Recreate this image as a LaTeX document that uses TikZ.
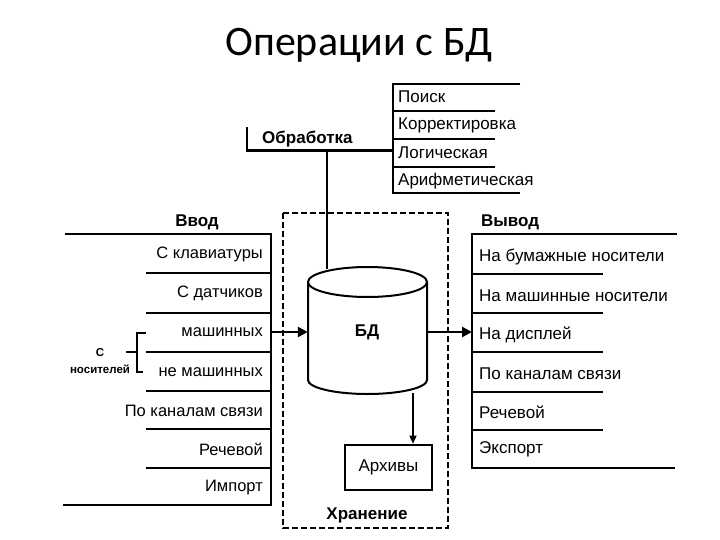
\documentclass[tikz,border=0pt]{standalone}
\usepackage{fontspec}
\setmainfont{Liberation Sans}
\newfontfamily\titlefont{Carlito}
\usetikzlibrary{arrows.meta}
\begin{document}
\begin{tikzpicture}[x=1pt,y=-1pt,
  item/.style={inner sep=0pt,font=\fontsize{17}{19}\selectfont},
  litem/.style={inner sep=0pt,font=\fontsize{16.5}{19}\selectfont},
  head/.style={inner sep=0pt,font=\fontsize{17}{19}\selectfont\bfseries},
  small/.style={inner sep=0pt,font=\fontsize{11.5}{12}\selectfont\bfseries},
  bar/.style={line width=2.8pt},
  sep/.style={line width=2pt},
  conn/.style={line width=2.6pt,-{Triangle[length=10pt,width=10pt]}},
  thinconn/.style={line width=1.4pt,-{Triangle[length=8pt,width=7pt]}}]
\useasboundingbox (0,0) rectangle (720,540);

% title
\node[inner sep=0pt,font=\titlefont\fontsize{42}{46}\selectfont] (title) at (359,45) {Операции с БД};

% storage area
\draw[line width=2.2pt,dash pattern=on 6pt off 3pt] (283,213) rectangle (448,528);
\node[head] (stor) at (367,515) {Хранение};

% database cylinder
\node[minimum width=119pt,minimum height=126pt,inner sep=0pt] (db) at (367.5,331) {};
\draw[line width=2pt,fill=white] (308,282) -- (308,380) arc[start angle=180,end angle=360,x radius=59.5pt,y radius=14pt] -- (427,282);
\draw[line width=2pt,fill=white] (367.5,282) ellipse [x radius=59.5pt,y radius=15pt];
\node[head] (dbt) at (367,332) {БД};

% archives
\node[draw,line width=2.6pt,minimum width=87pt,minimum height=45pt,inner sep=0pt,font=\fontsize{17}{19}\selectfont] (arch) at (388.5,467.5) {Архивы};
\coordinate (dbb) at (413,393);
\draw[thinconn] (dbb) -- (dbb |- arch.north);

% processing
\node[head,anchor=west] (proc) at (262,139) {Обработка};
\draw[bar] (247,127) -- (247,150.5) -- (393,150.5);
\draw[bar] (520,84) -- (393,84) -- (393,193) -- (520,193);
\draw[sep] (393,111) -- (495,111);
\draw[sep] (393,139) -- (495,139);
\draw[sep] (393,167) -- (495,167);
\node[item,anchor=west] (p1) at (398,97) {Поиск};
\node[item,anchor=west] (p2) at (398,125) {Корректировка};
\node[item,anchor=west] (p3) at (398,153) {Логическая};
\node[item,anchor=west] (p4) at (398,181) {Арифметическая};
\coordinate (pj) at (327,150.5);
\draw[line width=2.4pt] (pj) -- (327,268.5);

% input
\node[head] (in) at (197,222) {Ввод};
\draw[bar] (65,234) -- (271,234) -- (271,505) -- (63,505);
\foreach \y in {273,313,352,391,429,468} \draw[sep] (146,\y) -- (271,\y);
\node[litem,anchor=east] (i1) at (263,254) {С клавиатуры};
\node[litem,anchor=east] (i2) at (263,293) {С датчиков};
\node[litem,anchor=east] (i3) at (263,332) {машинных};
\node[litem,anchor=east] (i4) at (263,372) {не машинных};
\node[litem,anchor=east] (i5) at (263,411) {По каналам связи};
\node[litem,anchor=east] (i6) at (263,449) {Речевой};
\node[litem,anchor=east] (i7) at (263,488) {Импорт};
\node[small] (c1) at (100,353) {С};
\node[small] (c2) at (100,369) {носителей};
\draw[line width=1.6pt] (126,352) -- (137,352);
\draw[line width=1.6pt] (146,333) -- (137,333) -- (137,372) -- (143,372);

% output
\node[head,anchor=west] (out) at (481,222) {Вывод};
\draw[bar] (677,234) -- (472,234) -- (472,468) -- (675,468);
\foreach \y in {274,313,352,392,430} \draw[sep] (472,\y) -- (603,\y);
\node[item,anchor=west] (o1) at (479,257) {На бумажные носители};
\node[item,anchor=west] (o2) at (479,296) {На машинные носители};
\node[item,anchor=west] (o3) at (479,335) {На дисплей};
\node[item,anchor=west] (o4) at (479,374) {По каналам связи};
\node[item,anchor=west] (o5) at (479,412) {Речевой};
\node[item,anchor=west] (o6) at (479,449) {Экспорт};

% connectors
\coordinate (inbar) at (271,332);
\coordinate (outbar) at (472,332);
\draw[conn] (inbar) -- (db.west |- inbar);
\draw[conn] (db.east |- outbar) -- (outbar);
\end{tikzpicture}
\end{document}
